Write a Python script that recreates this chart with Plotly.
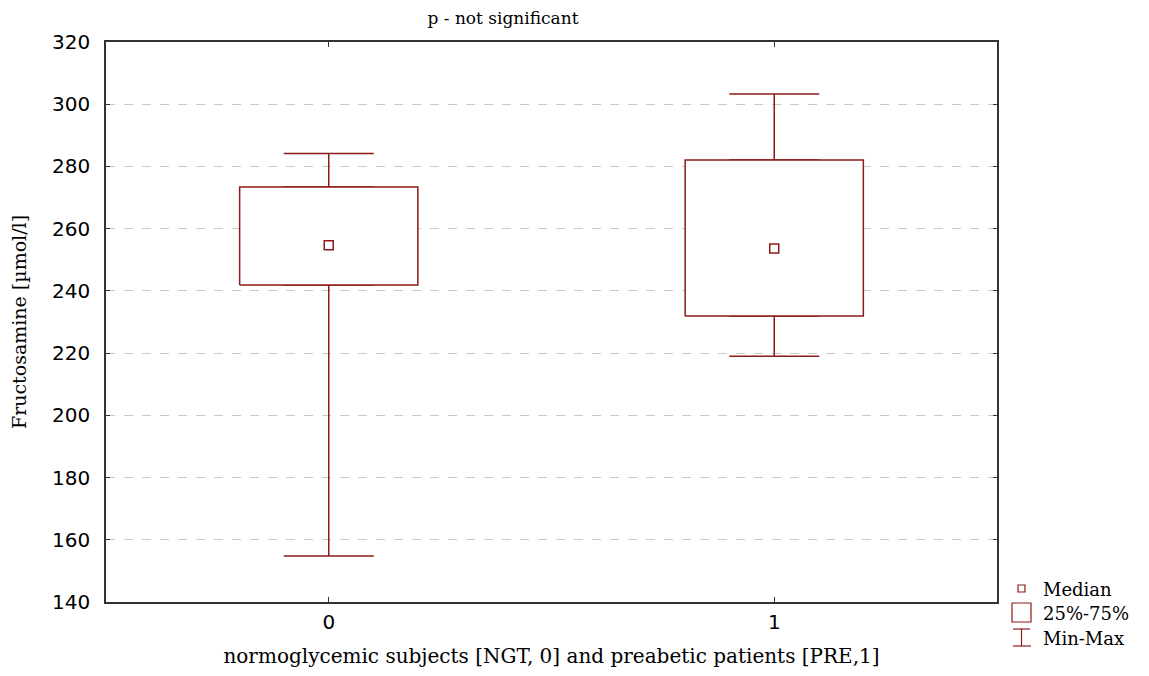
import plotly.graph_objects as go

# ---- data ----
categories = [0, 1]
q_min = [154.8, 219.0]
q1 = [241.9, 231.9]
median = [254.7, 253.6]
q3 = [273.4, 282.1]
q_max = [284.2, 303.3]
y_ticks = [140, 160, 180, 200, 220, 240, 260, 280, 300, 320]
x_title = "normoglycemic subjects [NGT, 0] and preabetic patients [PRE,1]"
y_title = "Fructosamine [µmol/l]"

RED = "#8C1A1A"
WSERIF = "DejaVu Serif, serif"
SANS = "DejaVu Sans, Arial, sans-serif"
HALF_W = 0.2

# page offset (body margin of 8px)
OFF = 8
FIG_W, FIG_H = 1149 - 2 * OFF, 676 - 2 * OFF

fig = go.Figure()

for i, c in enumerate(categories):
    fig.add_trace(go.Scatter(
        x=[c], y=[q3[i]], mode="markers", marker=dict(size=1, color="rgba(0,0,0,0)"),
        error_y=dict(type="data", symmetric=False, array=[q_max[i] - q3[i]], arrayminus=[0],
                     color=RED, thickness=1.5, width=45),
        showlegend=False, hoverinfo="skip"))
    fig.add_trace(go.Scatter(
        x=[c], y=[q1[i]], mode="markers", marker=dict(size=1, color="rgba(0,0,0,0)"),
        error_y=dict(type="data", symmetric=False, array=[0], arrayminus=[q1[i] - q_min[i]],
                     color=RED, thickness=1.5, width=45),
        showlegend=False, hoverinfo="skip"))
    fig.add_trace(go.Scatter(
        x=[c - HALF_W, c + HALF_W, c + HALF_W, c - HALF_W, c - HALF_W],
        y=[q1[i], q1[i], q3[i], q3[i], q1[i]],
        mode="lines", line=dict(color=RED, width=1.5), fill="toself", fillcolor="white",
        showlegend=False, hoverinfo="skip"))

fig.add_trace(go.Scatter(
    x=categories, y=median, mode="markers",
    marker=dict(symbol="square-open", size=9, color=RED, line=dict(width=1.5)),
    showlegend=False))

# ---- manual legend (paper coords from screen pixels) ----
L, R, T, B = 106, 997, 42, 602
def px(x):
    return (x - L) / (R - L)
def py(y):
    return (B - y) / (B - T)

shapes = [
    dict(type="rect", xref="paper", yref="paper", x0=px(1018), x1=px(1025), y0=py(592), y1=py(585),
         line=dict(color=RED, width=1.2)),
    dict(type="rect", xref="paper", yref="paper", x0=px(1012), x1=px(1031), y0=py(622), y1=py(603),
         line=dict(color=RED, width=1.2)),
    dict(type="line", xref="paper", yref="paper", x0=px(1013), x1=px(1030), y0=py(629), y1=py(629),
         line=dict(color=RED, width=1.2)),
    dict(type="line", xref="paper", yref="paper", x0=px(1013), x1=px(1031), y0=py(646), y1=py(646),
         line=dict(color=RED, width=1.2)),
    dict(type="line", xref="paper", yref="paper", x0=px(1021.5), x1=px(1021.5), y0=py(629), y1=py(646),
         line=dict(color=RED, width=1.2)),
]

annotations = []
for txt, yy in [("Median", 589), ("25%-75%", 613), ("Min-Max", 638)]:
    annotations.append(dict(text=txt, xref="paper", yref="paper", x=px(1041), y=py(yy),
                            xanchor="left", yanchor="middle", showarrow=False,
                            font=dict(family=WSERIF, size=18, color="black")))

fig.update_layout(
    width=FIG_W, height=FIG_H,
    margin=dict(l=L - OFF, r=FIG_W - (R - OFF), t=T - OFF, b=FIG_H - (B - OFF)),
    paper_bgcolor="white", plot_bgcolor="white",
    title=dict(text="p - not significant", x=(503 - OFF) / FIG_W, xanchor="center",
               y=1 - 4 / FIG_H, yanchor="top",
               font=dict(family=WSERIF, size=17, color="black")),
    shapes=shapes, annotations=annotations,
    showlegend=False,
)
fig.update_xaxes(
    range=[-0.5, 1.5], tickvals=categories, ticktext=[str(c) for c in categories],
    showgrid=False, zeroline=False, showline=True, linecolor="#333333", linewidth=1.5, mirror="ticks",
    ticks="inside", ticklen=5, tickcolor="#333333", ticklabelstandoff=1,
    tickfont=dict(family=SANS, size=20, color="black"),
    automargin=False,
    title=dict(text=x_title, standoff=32, font=dict(family=WSERIF, size=20, color="black")),
)
fig.update_yaxes(
    range=[140, 320], tickvals=y_ticks, showgrid=True, gridcolor="#c8c8c8", griddash="dash", gridwidth=1,
    zeroline=False, showline=True, linecolor="#333333", linewidth=1.5, mirror="ticks",
    ticks="inside", ticklen=4, tickcolor="#333333", ticklabelstandoff=10,
    tickfont=dict(family=SANS, size=20, color="black"),
    automargin=False,
    title=dict(text=y_title, standoff=60, font=dict(family=WSERIF, size=19, color="black")),
)

fig.write_html("out.html")
